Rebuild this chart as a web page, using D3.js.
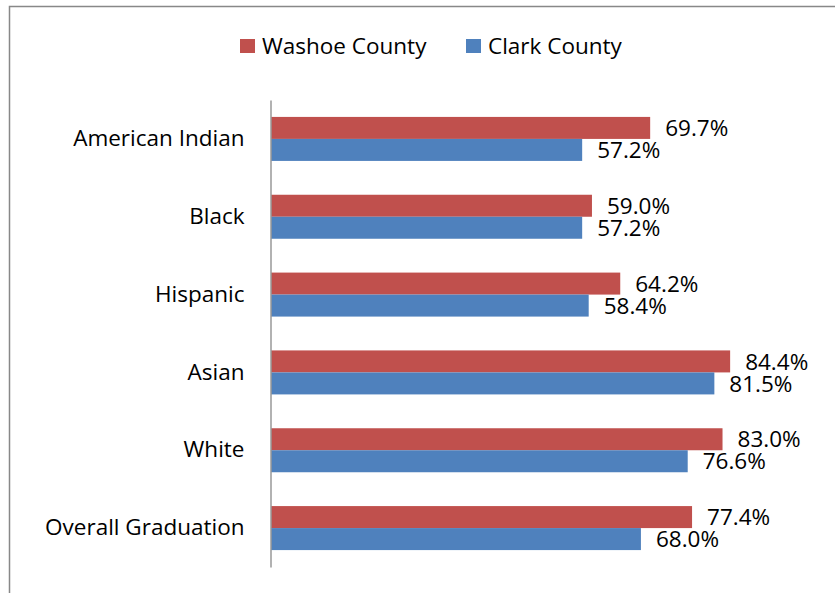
<!DOCTYPE html>
<html>
<head>
<meta charset="utf-8">
<script src="https://cdn.jsdelivr.net/npm/d3@7"></script>
<style>
  html, body { margin: 0; padding: 0; background: #fff; }
  svg { display: block; }
  text { font-family: "Open Sans", "Noto Sans", sans-serif; fill: #000; }
</style>
</head>
<body>
<svg id="chart" width="835" height="593"></svg>
<script>
// Graduation rates by group, Washoe vs Clark County
const categories = ["American Indian", "Black", "Hispanic", "Asian", "White", "Overall Graduation"];
const washoe = [69.7, 59.0, 64.2, 84.4, 83.0, 77.4];
const clark = [57.2, 57.2, 58.4, 81.5, 76.6, 68.0];
const seriesNames = ["Washoe County", "Clark County"];
const seriesColors = ["#C0504D", "#4F81BD"];

const FONT = "'Open Sans', 'Noto Sans', sans-serif";
const FS = 22.5;

const svg = d3.select("#chart");
const W = 835, H = 593;

// Outer frame (runs off the right and bottom edges)
svg.append("path")
  .attr("d", `M9.5,${H + 5} V6.5 H${W + 5}`)
  .attr("fill", "none")
  .attr("stroke", "#888")
  .attr("stroke-width", 1.5);

const plot = { left: 271, right: 815, top: 100, bottom: 567 };

const x = d3.scaleLinear().domain([0, 100]).range([plot.left, plot.right]);
const y = d3.scaleBand().domain(categories).range([plot.top, plot.bottom]);
const barH = 22;
const inner = d3.scaleBand().domain(seriesNames).range([0, barH * 2]);

const rows = categories.map((c, i) => ({ cat: c, values: [washoe[i], clark[i]] }));

const g = svg.append("g");
const row = g.selectAll("g.row").data(rows).join("g")
  .attr("class", "row")
  .attr("transform", d => `translate(0,${y(d.cat) + (y.bandwidth() - barH * 2) / 2})`);

row.selectAll("rect").data(d => d.values.map((v, j) => ({ v, s: seriesNames[j], j })))
  .join("rect")
  .attr("x", x(0))
  .attr("y", d => inner(d.s))
  .attr("width", d => x(d.v) - x(0))
  .attr("height", inner.bandwidth())
  .attr("fill", d => seriesColors[d.j]);

row.selectAll("text.val").data(d => d.values.map((v, j) => ({ v, s: seriesNames[j] })))
  .join("text")
  .attr("class", "val")
  .attr("x", d => x(d.v) + 15)
  .attr("y", d => inner(d.s) + inner.bandwidth() / 2)
  .attr("dy", "0.36em")
  .attr("font-size", FS)
  .text(d => d.v.toFixed(1) + "%");

// Category axis
const axis = d3.axisLeft(y).tickSize(0).tickPadding(26);
const ax = svg.append("g").attr("transform", `translate(${plot.left - 0.5},0)`).call(axis);
ax.select(".domain").attr("stroke", "#999").attr("stroke-width", 1.5);
ax.selectAll(".tick text")
  .attr("font-size", FS)
  .attr("font-family", FONT)
  .attr("fill", "#000");

// Legend
const legendItems = [
  { name: seriesNames[0], color: seriesColors[0], x: 240 },
  { name: seriesNames[1], color: seriesColors[1], x: 466 }
];
const lg = svg.append("g").selectAll("g").data(legendItems).join("g")
  .attr("transform", d => `translate(${d.x},39)`);
lg.append("rect").attr("width", 15).attr("height", 14).attr("fill", d => d.color);
lg.append("text").attr("x", 22).attr("y", 7).attr("dy", "0.36em")
  .attr("font-size", FS).text(d => d.name);
</script>
</body>
</html>
